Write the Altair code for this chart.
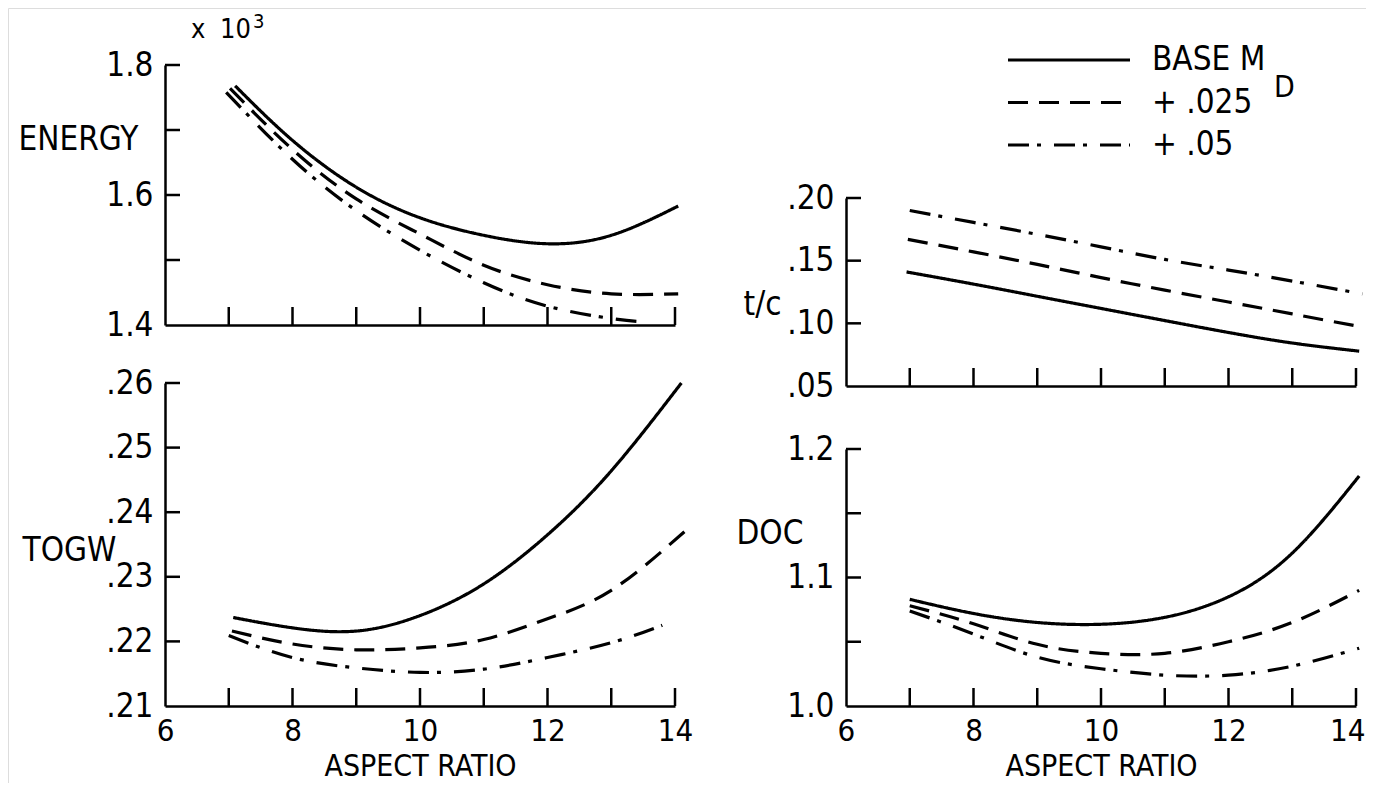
import altair as alt
import pandas as pd

FONT = "Liberation Sans Narrow, DejaVu Sans Condensed, Liberation Sans, sans-serif"
FS = 33

SERIES = ["BASE", "+.025", "+.05"]
LEGEND_LABELS = ["BASE M", "+ .025", "+ .05"]
DASHES = [[1, 0], [20, 11], [21, 8, 4, 13]]
ASPECT_TICKS = [7, 8, 9, 10, 11, 12, 13, 14]
ASPECT_LABELS = [6, 8, 10, 12, 14]

# ENERGY (x 10^3)
energy_base_x = [7.1, 8, 9, 10, 11, 12, 13, 14.05]
energy_base_y = [1.768, 1.684, 1.612, 1.565, 1.538, 1.525, 1.538, 1.583]
energy_p025_x = [7.02, 8, 9, 10, 11, 12, 13, 14.05]
energy_p025_y = [1.764, 1.670, 1.594, 1.540, 1.492, 1.462, 1.448, 1.448]
energy_p05_x = [6.96, 8, 9, 10, 11, 12, 13, 13.5]
energy_p05_y = [1.758, 1.655, 1.576, 1.515, 1.465, 1.429, 1.410, 1.405]

# TOGW
togw_base_x = [7.07, 8, 9, 10, 11, 12, 13, 14.1]
togw_base_y = [.2237, .2221, .2216, .2240, .2289, .2365, .2464, .2600]
togw_p025_x = [7.05, 8, 9, 10, 11, 12, 13, 14.15]
togw_p025_y = [.2216, .2196, .2187, .2190, .2203, .2235, .2279, .2370]
togw_p05_x = [7.0, 8, 9, 10, 11, 12, 13, 13.8]
togw_p05_y = [.2209, .2175, .2159, .2152, .2157, .2175, .2198, .2225]

# t/c
tc_base_x = [6.95, 8, 9, 10, 11, 12, 13, 14.05]
tc_base_y = [.141, .1313, .1216, .1119, .1022, .0927, .0843, .0778]
tc_p025_x = [6.97, 8, 9, 10, 11, 12, 13, 14.1]
tc_p025_y = [.167, .157, .147, .1365, .1265, .117, .1075, .097]
tc_p05_x = [7.0, 8, 9, 10, 11, 12, 13, 14.1]
tc_p05_y = [.190, .1805, .171, .161, .151, .1425, .1337, .1235]

# DOC
doc_base_x = [7.0, 8, 9, 10, 11, 12, 13, 14.05]
doc_base_y = [1.083, 1.072, 1.065, 1.0636, 1.069, 1.085, 1.119, 1.179]
doc_p025_x = [7.0, 8, 9, 10, 11, 12, 13, 14.05]
doc_p025_y = [1.078, 1.064, 1.048, 1.041, 1.041, 1.050, 1.065, 1.090]
doc_p05_x = [7.0, 8, 9, 10, 11, 12, 13, 14.05]
doc_p05_y = [1.074, 1.056, 1.038, 1.029, 1.024, 1.024, 1.031, 1.045]

W, H = 1358, 775
dash_scale = alt.Scale(domain=SERIES, range=DASHES)


def series_df(xs, ys):
    rows = []
    for s, xv, yv in zip(SERIES, xs, ys):
        rows += [{"series": s, "ar": a, "v": b} for a, b in zip(xv, yv)]
    return pd.DataFrame(rows)


def make_panel(xs, ys, x_range, y_domain, y_range, y_tick_vals, y_label_vals,
               y_title, y_title_x, y_title_y, bottom, y_fmt=None, y_expr=None,
               flush=False, extra=()):
    df = series_df(xs, ys)
    x_axis = dict(orient="bottom", offset=y_range[0] - H, grid=False, ticks=False,
                  tickSize=0, domainColor="black", domainWidth=2.5,
                  labelFlush=flush, labelOverlap=False)
    if flush:
        x_axis["labelFlushOffset"] = 9
    if bottom:
        x_axis.update(values=ASPECT_LABELS, format="d", labelFont=FONT,
                      labelFontSize=31, labelColor="black", labelPadding=10,
                      title="ASPECT RATIO", titleFont=FONT, titleFontSize=30,
                      titleFontWeight="normal", titleColor="black",
                      titleBaseline="middle", titleAlign="center",
                      titleX=(x_range[0] + x_range[1]) / 2, titleY=60)
    else:
        x_axis.update(labels=False, title=None)
    y_axis = dict(orient="left", offset=-x_range[0], grid=False, ticks=False,
                  tickSize=0, domainColor="black", domainWidth=2.5,
                  values=y_label_vals, labelFont=FONT, labelFontSize=FS,
                  labelColor="black", labelPadding=12, labelFlush=False,
                  labelOverlap=False, title=y_title, titleFont=FONT,
                  titleFontSize=FS, titleFontWeight="normal", titleColor="black",
                  titleAngle=0, titleAlign="left", titleBaseline="middle",
                  titleX=y_title_x - x_range[0], titleY=y_title_y)
    if y_fmt:
        y_axis["format"] = y_fmt
    if y_expr:
        y_axis["labelExpr"] = y_expr
    X = alt.X("ar:Q", scale=alt.Scale(domain=[6, 14], range=list(x_range), nice=False, zero=False),
              axis=alt.Axis(**x_axis))
    Y = alt.Y("v:Q", scale=alt.Scale(domain=list(y_domain), range=list(y_range), nice=False, zero=False),
              axis=alt.Axis(**y_axis))
    lines = alt.Chart(df).mark_line(interpolate="natural", strokeWidth=3.2, color="black").encode(
        x=X, y=Y, strokeDash=alt.StrokeDash("series:N", scale=dash_scale, legend=None))
    yt = alt.Chart(pd.DataFrame({"v": y_tick_vals})).mark_rule(color="black", strokeWidth=2.5).encode(
        y=Y, x=alt.value(x_range[0]), x2=alt.value(x_range[0] + 15))
    xt = alt.Chart(pd.DataFrame({"ar": ASPECT_TICKS})).mark_rule(color="black", strokeWidth=2.5).encode(
        x=X, y=alt.value(y_range[0]), y2=alt.value(y_range[0] - 18))
    return alt.layer(lines, yt, xt, *extra)


def text_layer(txt, x, y, size, baseline="alphabetic", align="left"):
    return alt.Chart(pd.DataFrame({"t": [txt]})).mark_text(
        font=FONT, fontSize=size, color="black", align=align, baseline=baseline).encode(
        text="t:N", x=alt.value(x), y=alt.value(y))


TL = make_panel([energy_base_x, energy_p025_x, energy_p05_x],
                [energy_base_y, energy_p025_y, energy_p05_y],
                (157, 667), (1.4, 1.8), (317, 57), [1.5, 1.6, 1.7, 1.8], [1.4, 1.6, 1.8],
                "ENERGY", 10, 131, False, y_fmt=".1f",
                extra=(text_layer("x", 183, 30, 27), text_layer("10", 212, 30, 27),
                       text_layer("3", 245, 20, 20)))
BL = make_panel([togw_base_x, togw_p025_x, togw_p05_x],
                [togw_base_y, togw_p025_y, togw_p05_y],
                (157, 667), (0.21, 0.26), (698, 375), [.22, .23, .24, .25, .26],
                [.21, .22, .23, .24, .25, .26],
                "TOGW", 14, 542, True, y_expr="substring(format(datum.value, '.2f'), 1)")
TR = make_panel([tc_base_x, tc_p025_x, tc_p05_x],
                [tc_base_y, tc_p025_y, tc_p05_y],
                (838, 1348), (0.05, 0.20), (378, 190), [.10, .15, .20], [.05, .10, .15, .20],
                "t/c", 735, 296, False, y_expr="substring(format(datum.value, '.2f'), 1)")
BR = make_panel([doc_base_x, doc_p025_x, doc_p05_x],
                [doc_base_y, doc_p025_y, doc_p05_y],
                (838, 1348), (1.0, 1.2), (698, 441), [1.05, 1.1, 1.15, 1.2], [1.0, 1.1, 1.2],
                "DOC", 728, 525, True, y_fmt=".1f", flush=True)

leg_df = pd.DataFrame({"series": SERIES, "label": LEGEND_LABELS})
LY = alt.Y("series:N", scale=alt.Scale(type="point", domain=SERIES, range=[52, 137], padding=0), axis=None)
leg_rules = alt.Chart(leg_df).mark_rule(color="black", strokeWidth=3).encode(
    y=LY, x=alt.value(1000), x2=alt.value(1122),
    strokeDash=alt.StrokeDash("series:N", scale=dash_scale, legend=None))
leg_text = alt.Chart(leg_df).mark_text(font=FONT, fontSize=FS, color="black", align="left",
                                       baseline="middle").encode(
    y=LY, x=alt.value(1144), text="label:N")
LEG = alt.layer(leg_rules, leg_text, text_layer("D", 1266, 80, 30, baseline="middle"))

chart = alt.layer(TL, BL, TR, BR, LEG).resolve_scale(
    x="independent", y="independent").resolve_axis(
    x="independent", y="independent").properties(
    width=W, height=H, padding=0, autosize=alt.AutoSizeParams(type="none")
).configure_view(stroke=None).configure(background="white")

chart.save("out.html", embed_options={"renderer": "svg", "actions": False})
